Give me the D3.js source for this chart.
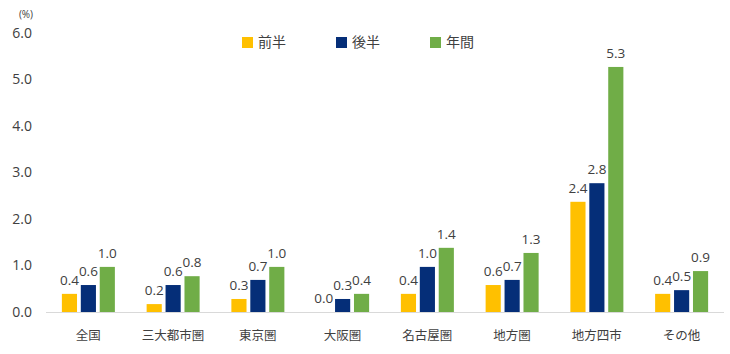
<!DOCTYPE html>
<html>
<head>
<meta charset="utf-8">
<script src="https://cdn.jsdelivr.net/npm/d3@7"></script>
<style>
  body { margin: 0; background: #fff; }
  text { font-family: "Open Sans", "Noto Sans CJK JP", sans-serif; fill: #404040; }
</style>
</head>
<body>
<div id="chart"></div>
<script>
var categories = ["全国", "三大都市圏", "東京圏", "大阪圏", "名古屋圏", "地方圏", "地方四市", "その他"];
var seriesNames = ["前半", "後半", "年間"];
var firstHalf = [0.39, 0.17, 0.28, 0.0, 0.39, 0.58, 2.37, 0.39];
var secondHalf = [0.58, 0.58, 0.69, 0.28, 0.97, 0.69, 2.77, 0.47];
var fullYear = [0.97, 0.77, 0.97, 0.39, 1.38, 1.27, 5.27, 0.88];
var labelFirst = ["0.4", "0.2", "0.3", "0.0", "0.4", "0.6", "2.4", "0.4"];
var labelSecond = ["0.6", "0.6", "0.7", "0.3", "1.0", "0.7", "2.8", "0.5"];
var labelYear = ["1.0", "0.8", "1.0", "0.4", "1.4", "1.3", "5.3", "0.9"];
var yTicks = [0, 1, 2, 3, 4, 5, 6];

function init() {
    const w = 730;
    const h = 354;
    const colors = ["#FFC000", "#052E78", "#70AD47"];
    const values = [firstHalf, secondHalf, fullYear];
    const labels = [labelFirst, labelSecond, labelYear];

    var svg = d3.select("#chart")
        .append("svg")
        .attr("width", w)
        .attr("height", h);

    var x = d3.scaleBand()
        .domain(categories)
        .range([46, 724]);

    var xInner = d3.scaleBand()
        .domain(seriesNames)
        .range([0, 53])
        .paddingInner(0.2);

    var y = d3.scaleLinear()
        .domain([0, 6])
        .range([312, 33]);

    // y tick labels
    svg.selectAll(".ytick")
        .data(yTicks)
        .enter()
        .append("text")
        .attr("x", 32)
        .attr("y", (d) => y(d))
        .attr("dy", "0.35em")
        .attr("text-anchor", "end")
        .style("font-size", "14px")
        .text((d) => d3.format(".1f")(d));

    svg.append("text")
        .attr("x", 26)
        .attr("y", 14)
        .attr("dy", "0.35em")
        .attr("text-anchor", "middle")
        .style("font-size", "10px")
        .text("(%)");

    // baseline
    svg.append("line")
        .attr("x1", 46)
        .attr("x2", 724)
        .attr("y1", y(0) + 0.5)
        .attr("y2", y(0) + 0.5)
        .attr("stroke", "#D9D9D9")
        .attr("stroke-width", 1);

    var groups = svg.selectAll(".grp")
        .data(categories)
        .enter()
        .append("g")
        .attr("transform", (d) => "translate(" + (x(d) + (x.bandwidth() - 53) / 2) + ",0)");

    groups.each(function (c, ci) {
        var g = d3.select(this);
        seriesNames.forEach((s, si) => {
            var v = values[si][ci];
            g.append("rect")
                .attr("x", xInner(s))
                .attr("y", y(v))
                .attr("width", xInner.bandwidth())
                .attr("height", y(0) - y(v))
                .attr("fill", colors[si]);
            g.append("text")
                .attr("x", xInner(s) + xInner.bandwidth() / 2)
                .attr("y", y(v) - 9)
                .attr("text-anchor", "middle")
                .style("font-size", "13.5px")
                .text(labels[si][ci]);
        });
    });

    // category labels
    svg.selectAll(".xlab")
        .data(categories)
        .enter()
        .append("text")
        .attr("x", (d) => x(d) + x.bandwidth() / 2)
        .attr("y", 336)
        .attr("dy", "0.35em")
        .attr("text-anchor", "middle")
        .style("font-size", "12.5px")
        .text((d) => d);

    // legend
    var legendX = [242, 336, 430];
    var legend = svg.selectAll(".leg")
        .data(seriesNames)
        .enter()
        .append("g")
        .attr("transform", (d, i) => "translate(" + legendX[i] + ",42)");

    legend.append("rect")
        .attr("x", 0)
        .attr("y", -5)
        .attr("width", 11)
        .attr("height", 11)
        .attr("fill", (d, i) => colors[i]);

    legend.append("text")
        .attr("x", 16)
        .attr("y", 0)
        .attr("dy", "0.35em")
        .style("font-size", "14px")
        .text((d) => d);
}
window.onload = init;
</script>
</body>
</html>
